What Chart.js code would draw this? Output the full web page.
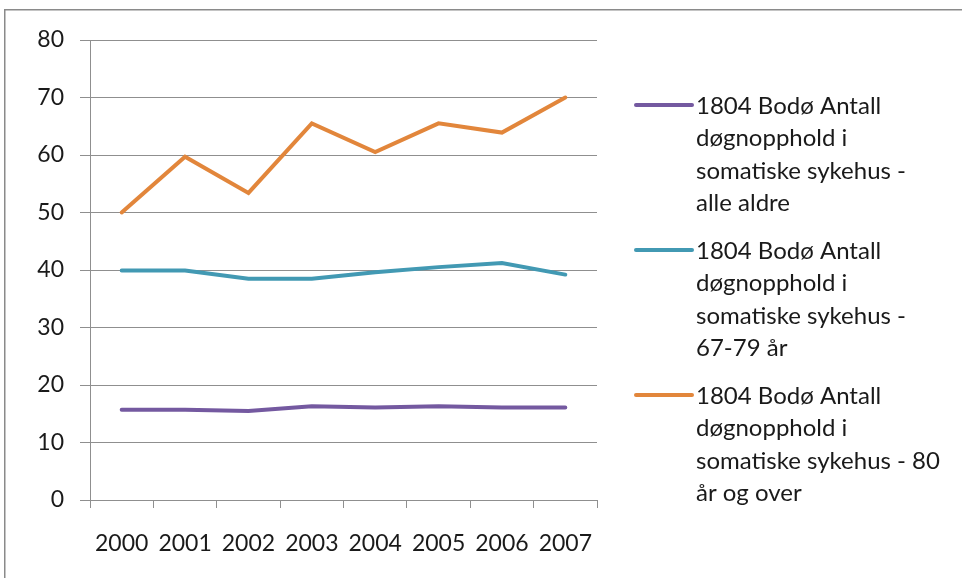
<!DOCTYPE html>
<html>
<head>
<meta charset="utf-8">
<script src="https://cdn.jsdelivr.net/npm/chart.js@4"></script>
<style>
html,body{margin:0;padding:0;background:#fff;}
canvas{display:block;}
</style>
</head>
<body>
<canvas id="c" width="962" height="578"></canvas>
<script>
const categories = ['2000','2001','2002','2003','2004','2005','2006','2007'];
const allAges = [15.7, 15.7, 15.5, 16.3, 16.1, 16.3, 16.1, 16.1];
const age67to79 = [39.9, 39.9, 38.5, 38.5, 39.6, 40.5, 41.2, 39.2];
const age80plus = [50.0, 59.7, 53.4, 65.5, 60.5, 65.5, 63.9, 70.0];
const seriesLabels = [
  ['1804 Bodø Antall', 'døgnopphold i', 'somatiske sykehus -', 'alle aldre'],
  ['1804 Bodø Antall', 'døgnopphold i', 'somatiske sykehus -', '67-79 år'],
  ['1804 Bodø Antall', 'døgnopphold i', 'somatiske sykehus - 80', 'år og over']
];
const yTicks = [0, 10, 20, 30, 40, 50, 60, 70, 80];

const FONT = 'Lato, "Open Sans", sans-serif';
const GRID = '#8f8f8f';
const colors = ['#7459a0', '#4299b3', '#e2863b'];

const framePlugin = {
  id: 'frame',
  beforeDraw(chart) {
    const ctx = chart.ctx;
    ctx.save();
    ctx.fillStyle = '#fff';
    ctx.fillRect(0, 0, chart.width, chart.height);
    ctx.strokeStyle = '#8a8a8a';
    ctx.lineWidth = 1.5;
    ctx.strokeRect(4.75, 9.75, 2000, 2000);
    ctx.restore();
  }
};

const legendPlugin = {
  id: 'customLegend',
  afterDraw(chart) {
    const ctx = chart.ctx;
    ctx.save();
    ctx.font = '24px ' + FONT;
    ctx.textBaseline = 'middle';
    ctx.fillStyle = '#1a1a1a';
    const x0 = 636, x1 = 692, tx = 696;
    const lineH = 32.4, itemStep = 145, y0 = 105;
    chart.data.datasets.forEach((ds, i) => {
      const y = y0 + i * itemStep;
      ctx.strokeStyle = ds.borderColor;
      ctx.lineWidth = 4;
      ctx.lineCap = 'round';
      ctx.beginPath();
      ctx.moveTo(x0, y);
      ctx.lineTo(x1, y);
      ctx.stroke();
      ds.label.forEach((line, j) => {
        ctx.fillText(line, tx, y + j * lineH + 1);
      });
    });
    ctx.restore();
  }
};

new Chart(document.getElementById('c'), {
  type: 'line',
  data: {
    labels: categories,
    datasets: [
      { label: seriesLabels[0], data: allAges, borderColor: colors[0] },
      { label: seriesLabels[1], data: age67to79, borderColor: colors[1] },
      { label: seriesLabels[2], data: age80plus, borderColor: colors[2] }
    ].map(d => Object.assign(d, {
      borderWidth: 4, pointRadius: 0, tension: 0, fill: false,
      borderCapStyle: 'round', borderJoinStyle: 'miter', backgroundColor: d.borderColor
    }))
  },
  options: {
    responsive: false,
    devicePixelRatio: 1,
    animation: false,
    layout: { padding: { top: 40, right: 365, bottom: 0, left: 0 } },
    plugins: { legend: { display: false }, tooltip: { enabled: false } },
    scales: {
      x: {
        offset: true,
        grid: { offset: true, drawOnChartArea: false, drawTicks: true, tickLength: 8, color: GRID, lineWidth: 1 },
        border: { display: true, color: GRID, width: 1 },
        ticks: { color: '#1a1a1a', font: { family: FONT, size: 23 }, padding: 22, maxRotation: 0, autoSkip: false },
        afterFit(scale) { scale.height = 78; }
      },
      y: {
        min: 0, max: 80,
        afterBuildTicks(scale) { scale.ticks = yTicks.map(v => ({ value: v })); },
        grid: { color: GRID, lineWidth: 1, tickLength: 10, drawTicks: true },
        border: { display: true, color: GRID, width: 1 },
        ticks: { color: '#1a1a1a', font: { family: FONT, size: 23 }, padding: 16 },
        afterFit(scale) { scale.width = 90; }
      }
    }
  },
  plugins: [framePlugin, legendPlugin]
});
</script>
</body>
</html>
